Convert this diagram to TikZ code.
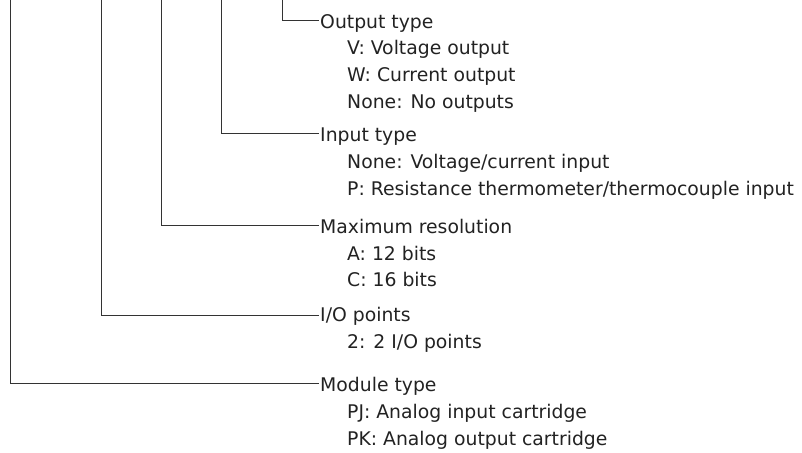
\documentclass[tikz,border=0pt]{standalone}
\usepackage{fontspec}
\setmainfont{DejaVu Sans}
\definecolor{txt}{HTML}{222222}
\definecolor{ln}{HTML}{333333}
\begin{document}
\begin{tikzpicture}[x=1pt,y=-1pt,
  lbl/.style={anchor=base west,inner sep=0pt,text=txt,font=\fontsize{18.8}{22}\selectfont},
  conn/.style={draw=ln,line width=1pt}]
\useasboundingbox (0,0) rectangle (802,452);
% top coordinates
\coordinate (t1) at (10.5,0);
\coordinate (t2) at (101.5,0);
\coordinate (t3) at (161.5,0);
\coordinate (t4) at (221.5,0);
\coordinate (t5) at (282.5,0);
% headings
\node[lbl] (h5) at (320,28.3) {Output type};
\node[lbl] (s51) at (347,55) {V: Voltage output};
\node[lbl] (s52) at (347,81.7) {W: Current output};
\node[lbl] (s53) at (347,108.3) {None: No outputs};
\node[lbl] (h4) at (320,141.7) {Input type};
\node[lbl] (s41) at (347,168.3) {None: Voltage/current input};
\node[lbl] (s42) at (347,195) {P: Resistance thermometer/thermocouple input};
\node[lbl] (h3) at (320,233.3) {Maximum resolution};
\node[lbl] (s31) at (347,260) {A: 12 bits};
\node[lbl] (s32) at (347,286.7) {C: 16 bits};
\node[lbl] (h2) at (320,321.7) {I/O points};
\node[lbl] (s21) at (347,348.3) {2: 2 I/O points};
\node[lbl] (h1) at (320,391.7) {Module type};
\node[lbl] (s11) at (347,418.3) {PJ: Analog input cartridge};
\node[lbl] (s12) at (347,445) {PK: Analog output cartridge};
% connector ends
\coordinate (e5) at (318.5,20.7);
\coordinate (e4) at (318.5,133.5);
\coordinate (e3) at (318.5,225.5);
\coordinate (e2) at (318.5,315.5);
\coordinate (e1) at (318.5,383.5);
\draw[conn] (t5) |- (e5);
\draw[conn] (t4) |- (e4);
\draw[conn] (t3) |- (e3);
\draw[conn] (t2) |- (e2);
\draw[conn] (t1) |- (e1);
\end{tikzpicture}
\end{document}
